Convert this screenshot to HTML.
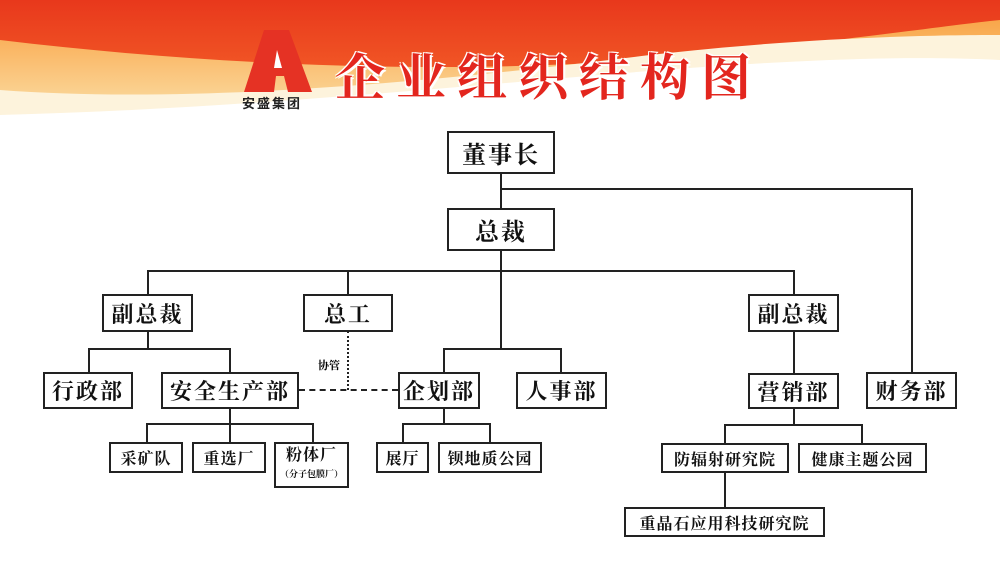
<!DOCTYPE html>
<html><head><meta charset="utf-8"><style>
body{margin:0;width:1000px;height:561px;overflow:hidden;background:#fff;position:relative;font-family:"Liberation Serif","Noto Serif CJK SC",serif}
.b{position:absolute;border:2px solid #222;box-sizing:border-box;background:#fff;display:flex;align-items:center;justify-content:center;font-weight:bold;color:#111;white-space:nowrap}
.l{position:absolute;background:#222}
.big{font-size:22px;letter-spacing:2px}
.sm{font-size:16px;letter-spacing:1px}
</style></head><body>
<svg style="position:absolute;left:0;top:0" width="1000" height="130">
<defs>
<linearGradient id="r" x1="0" y1="0" x2="0" y2="1"><stop offset="0" stop-color="#e8381c"/><stop offset="0.6" stop-color="#f25a26"/><stop offset="1" stop-color="#f7913a"/></linearGradient>
<linearGradient id="y" x1="0" y1="0" x2="0" y2="1"><stop offset="0" stop-color="#f9a64a"/><stop offset="1" stop-color="#fbe7b4"/></linearGradient>
</defs>
<rect width="1000" height="130" fill="url(#r)"/>
<path d="M0,40 C250,70 500,75 700,55 C850,40 950,25 1000,20 L1000,130 L0,130 Z" fill="url(#y)"/>
<path d="M0,90 C200,105 450,80 650,55 C800,38 920,35 1000,35 L1000,130 L0,130 Z" fill="#fdf3dc"/>
<path d="M0,115 C200,110 400,92 600,75 C780,60 900,55 1000,60 L1000,130 L0,130 Z" fill="#fff"/>
</svg>
<svg style="position:absolute;left:244px;top:30px" width="68" height="62"><polygon points="20,0 45,0 68,62 44,62 40,46 32,46 30,62 0,62" fill="#e53224"/><polygon points="33,20 38,38 30,38" fill="#fff"/></svg>
<div style="position:absolute;left:242px;top:93px;font:bold 13px 'Noto Sans CJK SC',sans-serif;color:#222;letter-spacing:2px">安盛集团</div>
<div style="position:absolute;left:335px;top:38px;font:bold 50px 'Noto Serif CJK SC',serif;color:#e3261e;letter-spacing:11px;text-shadow:2px 2px 0 #fff,-1px -1px 0 #fff,2px -1px 0 #fff,-1px 2px 0 #fff">企业组织结构图</div>

<!-- lines -->
<div class="l" style="left:500px;top:174px;width:2px;height:34px"></div>
<div class="l" style="left:500px;top:188px;width:413px;height:2px"></div>
<div class="l" style="left:911px;top:188px;width:2px;height:184px"></div>
<div class="l" style="left:500px;top:251px;width:2px;height:99px"></div>
<div class="l" style="left:147px;top:270px;width:648px;height:2px"></div>
<div class="l" style="left:147px;top:270px;width:2px;height:24px"></div>
<div class="l" style="left:347px;top:270px;width:2px;height:24px"></div>
<div class="l" style="left:793px;top:270px;width:2px;height:24px"></div>
<div class="l" style="left:147px;top:331px;width:2px;height:18px"></div>
<div class="l" style="left:88px;top:348px;width:143px;height:2px"></div>
<div class="l" style="left:88px;top:348px;width:2px;height:24px"></div>
<div class="l" style="left:229px;top:348px;width:2px;height:24px"></div>
<div class="l" style="left:443px;top:348px;width:119px;height:2px"></div>
<div class="l" style="left:443px;top:348px;width:2px;height:24px"></div>
<div class="l" style="left:560px;top:348px;width:2px;height:24px"></div>
<div class="l" style="left:793px;top:331px;width:2px;height:42px"></div>
<div style="position:absolute;left:347px;top:331px;height:59px;border-left:2px dotted #222"></div>
<div style="position:absolute;left:299px;top:389px;width:99px;border-top:2px dashed #222"></div>
<div style="position:absolute;left:318px;top:357px;font-size:11px;font-weight:bold">协管</div>
<div class="l" style="left:229px;top:408px;width:2px;height:16px"></div>
<div class="l" style="left:146px;top:423px;width:168px;height:2px"></div>
<div class="l" style="left:146px;top:423px;width:2px;height:19px"></div>
<div class="l" style="left:229px;top:423px;width:2px;height:19px"></div>
<div class="l" style="left:312px;top:423px;width:2px;height:19px"></div>
<div class="l" style="left:443px;top:408px;width:2px;height:16px"></div>
<div class="l" style="left:402px;top:423px;width:89px;height:2px"></div>
<div class="l" style="left:402px;top:423px;width:2px;height:19px"></div>
<div class="l" style="left:489px;top:423px;width:2px;height:19px"></div>
<div class="l" style="left:793px;top:409px;width:2px;height:16px"></div>
<div class="l" style="left:724px;top:424px;width:139px;height:2px"></div>
<div class="l" style="left:724px;top:424px;width:2px;height:19px"></div>
<div class="l" style="left:861px;top:424px;width:2px;height:19px"></div>
<div class="l" style="left:724px;top:473px;width:2px;height:34px"></div>

<!-- boxes -->
<div class="b big" style="left:447px;top:131px;width:108px;height:43px;font-size:24px">董事长</div>
<div class="b big" style="left:447px;top:208px;width:108px;height:43px;font-size:24px">总裁</div>
<div class="b big" style="left:102px;top:294px;width:91px;height:38px">副总裁</div>
<div class="b big" style="left:303px;top:294px;width:90px;height:38px">总工</div>
<div class="b big" style="left:748px;top:294px;width:91px;height:38px">副总裁</div>
<div class="b big" style="left:43px;top:372px;width:90px;height:37px">行政部</div>
<div class="b big" style="left:161px;top:372px;width:138px;height:37px">安全生产部</div>
<div class="b big" style="left:398px;top:372px;width:82px;height:37px">企划部</div>
<div class="b big" style="left:516px;top:372px;width:91px;height:37px">人事部</div>
<div class="b big" style="left:748px;top:373px;width:91px;height:36px">营销部</div>
<div class="b big" style="left:866px;top:372px;width:91px;height:37px">财务部</div>
<div class="b sm" style="left:109px;top:442px;width:74px;height:31px">采矿队</div>
<div class="b sm" style="left:192px;top:442px;width:74px;height:31px">重选厂</div>
<div class="b sm" style="left:274px;top:442px;width:75px;height:46px;flex-direction:column;line-height:18px">粉体厂<span style="font-size:9px;letter-spacing:0">（分子包膜厂）</span></div>
<div class="b sm" style="left:376px;top:442px;width:53px;height:31px">展厅</div>
<div class="b sm" style="left:438px;top:442px;width:104px;height:31px">钡地质公园</div>
<div class="b sm" style="left:661px;top:443px;width:128px;height:30px">防辐射研究院</div>
<div class="b sm" style="left:798px;top:443px;width:129px;height:30px">健康主题公园</div>
<div class="b sm" style="left:624px;top:507px;width:201px;height:30px">重晶石应用科技研究院</div>
</body></html>
